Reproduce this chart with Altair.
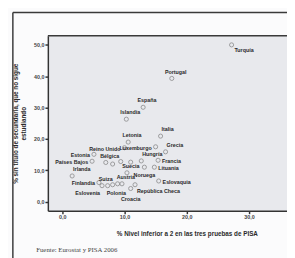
import altair as alt
import pandas as pd

paises = ["Turquía", "Portugal", "España", "Islandia", "Italia", "Letonia", "Reino Unido",
          "Luxemburgo", "Grecia", "Hungría", "Francia", "Lituania", "Noruega", "Suecia",
          "Bélgica", "Alemania", "Dinamarca", "Chipre", "Estonia", "Países Bajos", "Irlanda",
          "Finlandia", "Eslovenia", "Polonia", "Suiza", "Bulgaria", "Austria",
          "República Checa", "Croacia", "Eslovaquia"]
etiquetas = ["Turquía", "Portugal", "España", "Islandia", "Italia", "Letonia", "Reino Unido",
             "Luxemburgo", "Grecia", "Hungría", "Francia", "Lituania", "Noruega", "Suecia",
             "Bélgica", "", "", "", "Estonia", "Países Bajos", "Irlanda",
             "Finlandia", "Eslovenia", "Polonia", "Suiza", "", "Austria",
             "República Checa", "Croacia", "Eslovaquia"]
nivel_inferior = [27.2, 17.6, 13.0, 10.3, 15.8, 10.6, 10.0,
                  15.0, 16.6, 12.7, 15.4, 14.8, 13.2, 10.4,
                  7.0, 8.1, 9.4, 11.0, 5.1, 4.8, 1.6,
                  5.9, 6.4, 7.3, 8.1, 8.9, 9.6,
                  11.7, 11.0, 15.5]
sin_titulo = [50.0, 39.3, 30.1, 26.3, 20.9, 19.0, 17.2,
              17.5, 15.9, 13.0, 13.2, 11.0, 11.0, 9.2,
              12.5, 12.0, 12.8, 12.6, 15.1, 12.9, 8.2,
              6.1, 5.1, 5.1, 5.4, 5.7, 5.7,
              5.4, 4.2, 6.6]

x_ticks = [0, 10, 20, 30]
y_ticks = [0, 10, 20, 30, 40, 50]

# label placement groups
g_above = ["Portugal", "España", "Islandia", "Letonia", "Bélgica", "Suecia", "Austria"]
g_above_right = ["Italia", "Grecia", "Hungría", "Irlanda"]
g_above_left = ["Suiza"]
g_right = ["Francia", "Lituania", "Eslovaquia"]
g_right_below = ["Turquía"]
g_left = ["Reino Unido", "Luxemburgo", "Estonia", "Países Bajos", "Finlandia"]
g_below = ["Noruega"]
g_below_shift = ["Polonia"]
g_below_low = ["Croacia"]
g_below_left = ["Eslovenia"]
g_below_right = ["República Checa"]

df = pd.DataFrame({"pais": paises, "etiqueta": etiquetas,
                   "x": nivel_inferior, "y": sin_titulo})
one = pd.DataFrame({"a": [0]})

fmt = "replace(format(datum.value, '.1f'), '.', ',')"
xscale = alt.Scale(domain=[-2.3, 36.1], nice=False, zero=False)
yscale = alt.Scale(domain=[-2.9, 52.9], nice=False, zero=False)

xaxis = alt.Axis(values=x_ticks, labelExpr=fmt, grid=False,
                 title="% Nivel inferior a 2 en las tres pruebas de PISA",
                 titleX=143, titleY=20, titleBaseline="top", titleAnchor="middle")
yaxis = alt.Axis(values=y_ticks, labelExpr=fmt, grid=False,
                 title=["% sin título de secundaria, que no sigue", "estudiando"],
                 titlePadding=7, titleLineHeight=8)

xenc = alt.X("x:Q", scale=xscale, axis=xaxis)
yenc = alt.Y("y:Q", scale=yscale, axis=yaxis)

points = alt.Chart(df).mark_point(shape="circle", filled=False, size=18,
                                  stroke="#7a7a7a", strokeWidth=1).encode(x=xenc, y=yenc)


def labels(names, align, dx, dy):
    return alt.Chart(df).transform_filter(
        alt.FieldOneOfPredicate(field="pais", oneOf=names)
    ).mark_text(align=align, baseline="middle", dx=dx, dy=dy, fontSize=5.5,
                fontWeight="bold", font="Liberation Sans", color="#2a2a2a").encode(
        x=xenc, y=yenc, text="etiqueta:N")


layers = [
    labels(g_above, "center", 4, -7),
    labels(g_above_right, "left", 1, -7),
    labels(g_above_left, "right", 0, -6),
    labels(g_right, "left", 4, 1),
    labels(g_right_below, "left", 3, 5),
    labels(g_left, "right", -4, 1),
    labels(g_below, "center", 0, 8),
    labels(g_below_shift, "left", -1, 8),
    labels(g_below_low, "center", 0, 11),
    labels(g_below_left, "right", -2, 8),
    labels(g_below_right, "left", 2, 7),
]

frame_left = alt.Chart(one).mark_rule(color="#3a3a3a", strokeWidth=1.5).encode(
    x=alt.value(-36), y=alt.value(-24), y2=alt.value(240))
frame_top = alt.Chart(one).mark_rule(color="#3a3a3a", strokeWidth=1.5).encode(
    x=alt.value(-36), x2=alt.value(260), y=alt.value(-24))
plot_top = alt.Chart(one).mark_rule(color="#3a3a3a", strokeWidth=1.5).encode(
    x=alt.value(0), x2=alt.value(260), y=alt.value(0))
source = alt.Chart(one).mark_text(align="left", baseline="middle", font="Liberation Serif",
                                  fontSize=7, color="#444").encode(
    x=alt.value(-12), y=alt.value(220), text=alt.value("Fuente: Eurostat y PISA 2006"))

chart = alt.layer(points, *layers, frame_left, frame_top, plot_top, source).properties(
    width=246, height=180,
    autosize=alt.AutoSizeParams(type="none"),
    padding={"left": 41, "top": 25, "right": 0, "bottom": 45},
    background="#fbfbfc",
).configure_view(fill="#e8e9ed", strokeWidth=0).configure_axis(
    domainColor="#333333", domainWidth=1.5, tickColor="#333333", tickWidth=1.5,
    tickSize=3, labelPadding=1, labelFontSize=5.5, labelFontWeight="bold",
    labelColor="#444444", labelFont="Liberation Sans",
    titleFont="Liberation Sans", titleFontSize=6.5, titleFontWeight="bold",
    titleColor="#2a2a2a",
)

chart.save("out.html", embed_options={"renderer": "svg", "actions": False})
